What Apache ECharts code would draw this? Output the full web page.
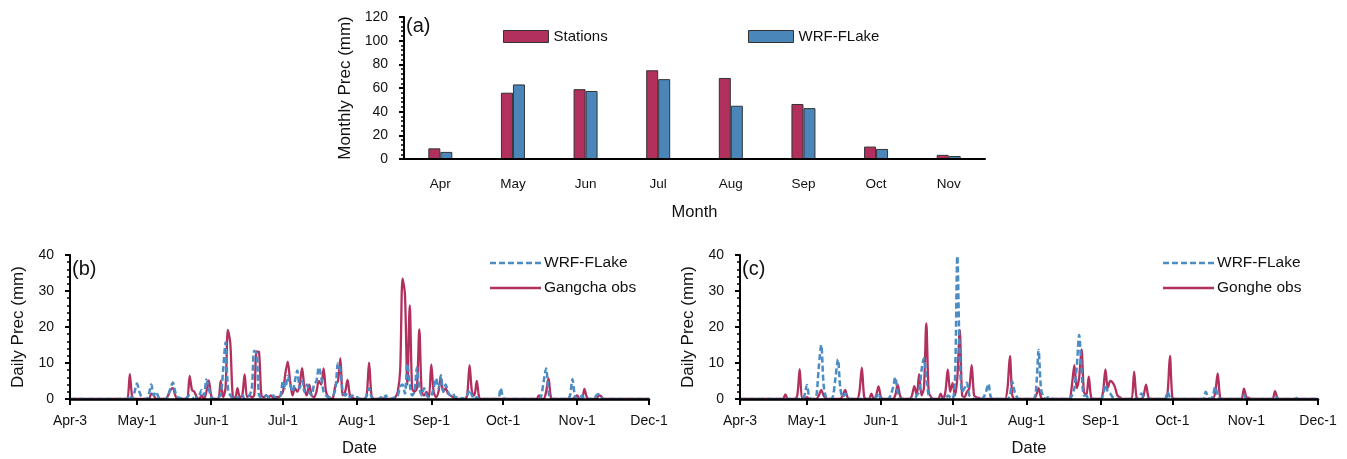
<!DOCTYPE html>
<html><head><meta charset="utf-8">
<script src="https://cdn.jsdelivr.net/npm/echarts@6/dist/echarts.min.js"></script>
<style>html,body{margin:0;padding:0;background:#fff}#c{width:1347px;height:459px}</style>
</head><body><div id="c"></div>
<script>
// ---------- Panel (a): monthly precipitation ----------
const monthCats = ['Apr','May','Jun','Jul','Aug','Sep','Oct','Nov'];
const stationsMonthly = [9, 56, 59, 75, 68.5, 46.5, 10.5, 3.5];
const wrfMonthly      = [6, 63, 57.5, 67.5, 45, 43, 8.5, 2.5];

// ---------- Panels (b),(c): daily precipitation, Apr-3 .. Dec-1 ----------
const monthNames = ['Apr','May','Jun','Jul','Aug','Sep','Oct','Nov','Dec'];
const monthFirstDay = [3,1,1,1,1,1,1,1,1];
const monthLastDay  = [30,31,30,31,31,30,31,30,1];
const dateTicks = ['Apr-3','May-1','Jun-1','Jul-1','Aug-1','Sep-1','Oct-1','Nov-1','Dec-1'];
const yTicksDaily = [0, 40, 10];   // min, max, interval
const yTicksMonthly = [0, 120, 20];

const gangchaObs = [
 // Apr 3-30
 0,0,0,0,0,0,0,0,0,0, 0,0,0,0,0,0,0,0,0,0, 0,0,0,0,0,6.9,0.5,0,
 // May
 0,0,0,0,0,0,1.5,1,0,0, 0,0,0,1,2.5,3,1,0,0,0, 0,0,6.4,2.5,2,0.5,0,1,0,2, 5.2,
 // Jun
 1,0,0,0,5,0.5,3,19.2,15.5,1, 0,3,0.5,1,6.8,0.5,1,0.5,1,13.2, 13,1,0.5,1,0.5,1,0.3,0.5,0.5,1,
 // Jul
 2,7,10.4,5,1,3,2,4,8.6,3, 1,4,1,0.5,2,5,4,8.5,2,0.5, 0,0.5,4,5,11.3,1,2,5.3,1,0.5, 0,
 // Aug
 0,0,0,0,1,10.1,1,0,0,0, 0.3,0,0,0,0,0,0.5,2,8,33.5, 29,4,26,3,2,3,19.3,2,1,2, 0.5,
 // Sep
 9.6,2,0.5,2,6,2,3,1.5,1,0.5, 0,0,0,0,0,1,9.4,2,1,5, 0.5,0,0,0,0,0,0,0,0,0,
 // Oct
 0,0,0,0,0,0,0,0,0,0, 0,0,0,0,0,1,0,0,2,5.7, 0.5,0,0,0,0,0,0,0,0,0, 0.5,
 // Nov
 1,0,0,2.8,0.5,0,0,0,0,1, 0.8,0,0,0,0,0,0,0,0,0, 0,0,0,0,0,0,0,0,0,0,
 // Dec 1
 0
];
const wrfGangcha = [
 0,0,0,0,0,0,0,0,0,0, 0,0,0,0,0,0,0,0,0,0, 0,0,0,0,0,1,0,2,
 4.3,2,0.5,0,0,1.5,4,1,2,0.5, 0,0,0,1,3,4.6,2,0.5,0.3,0, 0,0.5,1,0.5,0,0.5,1,2.5,1,5.4, 3,
 0.5,0,0,0.5,1,8,15.7,3,1,0.3, 0,0.5,0,1,0,0.5,1,3,13.4,12.5, 1,0.5,0.5,1,0.5,0.5,1,0.3,0.5,1,
 5,3,6.4,4,2,5,7.9,3,5,2, 4,2,1,4,5,8.8,6,2,1,0.5, 0.5,1,3,9.9,8,2,1,1.5,0.5,1, 0.5,
 0.5,0,0,0,1,3,0.5,0,0,0, 0.5,0,1,0,0,0.3,0.5,1,3.5,4, 1.5,9.7,4,1,2,8.7,3,1,3,1, 0.5,
 1,3,5.7,3,6.6,2,4,2,1,1.5, 0.5,0.5,0,0.3,0,1,2.5,1,0,0.5, 0,0,0,0,0,0,0,0,0,3,
 0.5,0,0,0,0,0,0,0,0,0, 0,0,0,0,0,0,1,5,8.5,2, 0,0,0,0,0,0,0,0,1,5.5, 1,
 0,0,1,0,0,0,0,0,1,1.3, 0.5,0,0,0,0,0,0,0,0,0, 0,0,0,0,0,0,0,0,0,0,
 0
];
const gongheObs = [
 0,0,0,0,0,0,0,0,0,0, 0,0,0,0,0,0,0,0,0,1.3, 0,0,0,0,1,8.3,0,0,
 0.5,0,0,0,0,1,2.5,1,0,0, 0,0,0,0,0,1,2.5,0.5,0,0, 0,0,2,8.7,0.5,0,0,1.5,0,1, 3.5,
 0.5,0,0,0,0,0,1,4,1,0, 0,0,0,1,3.6,1,6.9,1,3,21, 2,0.5,0,0,0,1.5,0,2,8.2,2,
 4.4,1,6,19.2,1,0.5,2,3,9.4,1, 0.5,0.3,0,0,0,0,0,0,0,0, 0,0,0,3,11.9,1,0,0,0,0, 0,
 0,0,0,0,1,3,0.5,0,0,0, 0,0,0,0,0,0,0,0,0,4, 9.4,3,6,13.8,2,1,6.2,0.5,0,0, 0,
 0,2,8.2,3,5,4.6,3.3,1,0.5,0, 0,0,0,0,7.6,0.5,0,0,1,4, 0.5,0,0,0,0,0,0,0,1.5,12,
 0.5,0,0,0,0,0,0,0,0,0, 0,0,0,0,0,0,0,0,2,7.1, 0.5,0,0,0,0,0,0,0,0,0, 2.9,
 0.5,0.3,0,0,0,0,0,0,0,0, 0,0,2.2,0.3,0,0,0,0,0,0, 0,0,0,0,0,0,0,0,0,0,
 0
];
const wrfGonghe = [
 0,0,0,0,0,0,0,0,0,0, 0,0,0,0,0,0,0,0,0,0, 0,0,0,0,0,0,0,1,
 3.9,0.5,0,0,1,9,15,4,0.5,0, 0,1,6,11,3,0.5,1.5,0.5,0,0, 0,0,0,0,0,0,0,0,0,0.5, 1.5,
 0,0,0,0,1,3,6,2,0,0, 0,0,0,0,0,1,2,8,11.3,6, 1,0,0,0,0,0,0,0,1,0.5,
 0,5,39.7,12,2,3,4.5,1,0.5,0, 0,0,0,0.5,2,4.2,0.5,0,0,0, 0,0,0,0,1,4.8,2,0.5,0,0, 0,
 0,0,0,0,3,13.6,3,0.5,0,0.5, 0.5,0,0,0,0,0,0,0,0,1, 3,9,17.8,8,1,1,0,0,0,0, 0,
 0,1,4,2,1.5,0.5,0,0,0,0, 0,0,0,0,0,0,0,1.5,0.5,0, 0,0,0,0,0,0,0,0,2,0.5,
 0,0,0,0,0,0,0,0,0,0, 0,0,0,0,2,0.5,0,1,3.4,1, 0,0,0,0,0,0,0,0,0,0, 1,
 0,0,0,0,0,0,0,0,0,0, 0,0,0.7,0,0,0,0,0,0,0, 0,0.3,0,0,0,0,0,0,0,0,
 0
];

// day categories "Mon-D"
const dayCats = [];
monthNames.forEach((m, i) => {
  for (let d = monthFirstDay[i]; d <= monthLastDay[i]; d++) dayCats.push(m + '-' + d);
});

const RED = '#b2305e', BLUE = '#4a86ba', BLUEL = '#4b8cc4';
const FONT = 'Liberation Sans, Arial, sans-serif';
const TXT = '#111';

function dailyX(gi) {
  const f = (i, v) => dateTicks.indexOf(v) >= 0;
  return {
    type: 'category', gridIndex: gi, data: dayCats, boundaryGap: false, z: 5,
    name: 'Date', nameLocation: 'middle', nameGap: 41,
    nameTextStyle: { fontFamily: FONT, fontSize: 16.5, color: TXT },
    axisLine: { lineStyle: { color: '#000', width: 2.5 } },
    axisTick: { show: true, interval: f, length: 6, lineStyle: { color: '#000', width: 2 } },
    axisLabel: { interval: f, margin: 15, fontFamily: FONT, fontSize: 14, color: TXT },
    splitLine: { show: false }
  };
}
function valueY(gi, ticks, name, gap) {
  return {
    type: 'value', gridIndex: gi, min: ticks[0], max: ticks[1], interval: ticks[2], z: 5,
    name: name, nameLocation: 'middle', nameGap: gap,
    nameTextStyle: { fontFamily: FONT, fontSize: 17, color: TXT },
    axisLine: { show: true, lineStyle: { color: '#000', width: 2 } },
    axisTick: { show: true, length: 5, lineStyle: { color: '#000', width: 2 } },
    minorTick: { show: true, splitNumber: 5, length: 3, lineStyle: { color: '#000', width: 1.5 } },
    axisLabel: { margin: 16, fontFamily: FONT, fontSize: 14, color: TXT },
    splitLine: { show: false }
  };
}

// legends of the daily panels: [x, y, text, colour, dashed]
const dailyLegendB = [[490, 263, 'WRF-FLake', BLUEL, true], [490, 288, 'Gangcha obs', RED, false]];
const dailyLegendC = [[1163, 263, 'WRF-FLake', BLUEL, true], [1163, 288, 'Gonghe obs', RED, false]];
const legendGraphics = [];
[dailyLegendB, dailyLegendC].forEach(items => items.forEach(([x, y, t, c, dash]) => {
  legendGraphics.push({ type: 'line', shape: { x1: x, y1: y, x2: x + 51, y2: y },
    style: { stroke: c, lineWidth: 2.5, lineDash: dash ? [6, 3] : null } });
  legendGraphics.push({ type: 'text', x: x + 54, y: y,
    style: { text: t, font: '15.5px ' + FONT, fill: TXT, textVerticalAlign: 'middle', verticalAlign: 'middle' } });
}));

const option = {
  animation: false,
  backgroundColor: '#fff',
  textStyle: { fontFamily: FONT },
  grid: [
    { left: 404, top: 17, width: 581, height: 142 },
    { left: 70, top: 255, width: 579, height: 144 },
    { left: 740, top: 255, width: 578, height: 144 }
  ],
  xAxis: [
    {
      type: 'category', gridIndex: 0, data: monthCats, z: 5,
      name: 'Month', nameLocation: 'middle', nameGap: 45,
      nameTextStyle: { fontFamily: FONT, fontSize: 16.5, color: TXT },
      axisLine: { lineStyle: { color: '#000', width: 2 } },
      axisTick: { alignWithLabel: true, length: 6, lineStyle: { color: '#000', width: 2 } },
      axisLabel: { margin: 18, fontFamily: FONT, fontSize: 13.5, color: TXT }
    },
    dailyX(1), dailyX(2)
  ],
  yAxis: [
    valueY(0, yTicksMonthly, 'Monthly Prec (mm)', 50),
    valueY(1, yTicksDaily, 'Daily Prec (mm)', 43),
    valueY(2, yTicksDaily, 'Daily Prec (mm)', 43)
  ],
  legend: [
    { data: ['Stations'], left: 503, top: 29, padding: 0, itemWidth: 45, itemHeight: 12, icon: 'rect',
      itemStyle: { borderColor: '#333', borderWidth: 1 },
      textStyle: { fontFamily: FONT, fontSize: 15, color: TXT } },
    { data: ['WRF-FLake'], left: 748, top: 29, padding: 0, itemWidth: 45, itemHeight: 12, icon: 'rect',
      itemStyle: { borderColor: '#333', borderWidth: 1 },
      textStyle: { fontFamily: FONT, fontSize: 15, color: TXT } }
  ],
  graphic: [
    { type: 'text', left: 406, top: 16, style: { text: '(a)', font: '20px ' + FONT, fill: TXT } },
    { type: 'text', left: 72, top: 259, style: { text: '(b)', font: '20px ' + FONT, fill: TXT } },
    { type: 'text', left: 742, top: 259, style: { text: '(c)', font: '20px ' + FONT, fill: TXT } }
  ].concat(legendGraphics),
  series: [
    { name: 'Stations', type: 'bar', xAxisIndex: 0, yAxisIndex: 0, data: stationsMonthly,
      barWidth: 12, barGap: '0%', itemStyle: { color: RED, borderColor: '#333', borderWidth: 1 } },
    { name: 'WRF-FLake', type: 'bar', xAxisIndex: 0, yAxisIndex: 0, data: wrfMonthly,
      barWidth: 12, barGap: '0%', itemStyle: { color: BLUE, borderColor: '#333', borderWidth: 1 } },
    { name: 'Gangcha obs', type: 'line', xAxisIndex: 1, yAxisIndex: 1, data: gangchaObs,
      symbol: 'none', smooth: 0.3, itemStyle: { color: RED }, lineStyle: { color: RED, width: 2.3 } },
    { name: 'WRF-FLake (b)', type: 'line', xAxisIndex: 1, yAxisIndex: 1, data: wrfGangcha,
      symbol: 'none', smooth: 0.3, itemStyle: { color: BLUEL }, lineStyle: { color: BLUEL, width: 2.5, type: [6, 3] } },
    { name: 'Gonghe obs', type: 'line', xAxisIndex: 2, yAxisIndex: 2, data: gongheObs,
      symbol: 'none', smooth: 0.3, itemStyle: { color: RED }, lineStyle: { color: RED, width: 2.3 } },
    { name: 'WRF-FLake (c)', type: 'line', xAxisIndex: 2, yAxisIndex: 2, data: wrfGonghe,
      symbol: 'none', smooth: 0.3, itemStyle: { color: BLUEL }, lineStyle: { color: BLUEL, width: 2.5, type: [6, 3] } }
  ]
};
const chart = echarts.init(document.getElementById('c'), null, { renderer: 'canvas' });
chart.setOption(option);
</script></body></html>
